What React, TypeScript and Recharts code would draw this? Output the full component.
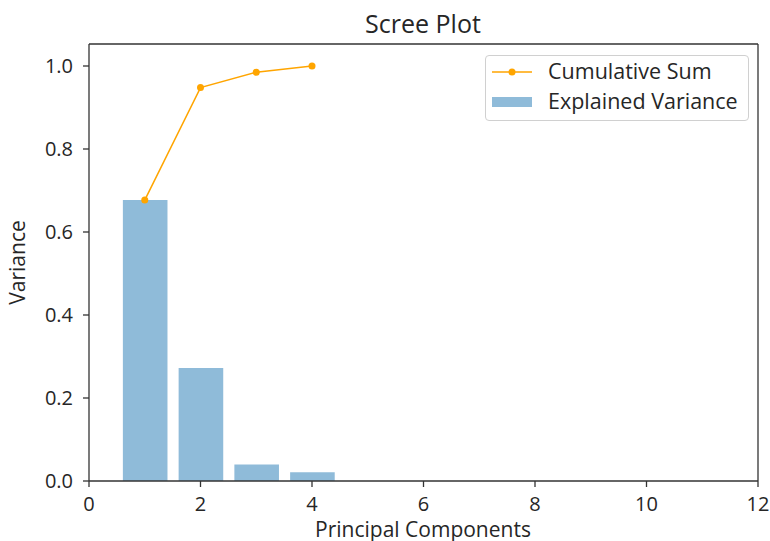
import {
  ComposedChart,
  Bar,
  Line,
  XAxis,
  YAxis,
  ReferenceLine,
} from "recharts";

const components = [1, 2, 3, 4];
const explainedVariance = [0.677, 0.272, 0.04, 0.021];
const cumulativeSum = [0.677, 0.948, 0.985, 1.0];
const xTicks = [0, 2, 4, 6, 8, 10, 12];
const yTicks = [0, 0.2, 0.4, 0.6, 0.8, 1.0];
const xMax = 12;
const yMax = 1.053;

const data = components.map((pc, i) => ({
  pc,
  variance: explainedVariance[i],
  cumulative: cumulativeSum[i],
}));

const FONT = "'Open Sans', 'DejaVu Sans', sans-serif";
const TEXT = "#262626";
const SPINE = "#333";
const BAR = "#1f77b4";
const LINE = "#ffa500";

function Legend() {
  return (
    <div
      style={{
        position: "absolute",
        left: 485,
        top: 55,
        width: 264,
        height: 66,
        boxSizing: "border-box",
        border: "1px solid #d0d0d0",
        borderRadius: 4,
        background: "rgba(255,255,255,0.8)",
      }}
    >
      <svg width={264} height={66} style={{ position: "absolute", left: -1, top: -1 }}>
        <line x1={7} x2={47} y1={17} y2={17} stroke={LINE} strokeWidth={1.5} />
        <circle cx={27} cy={17} r={3.5} fill={LINE} />
        <rect x={7} y={42} width={40} height={10} fill={BAR} fillOpacity={0.5} />
        <text x={63} y={24} fontFamily={FONT} fontSize={21.5} fill={TEXT}>
          Cumulative Sum
        </text>
        <text x={63} y={54} fontFamily={FONT} fontSize={21.5} fill={TEXT}>
          Explained Variance
        </text>
      </svg>
    </div>
  );
}

export default function App() {
  return (
    <div style={{ position: "absolute", left: 0, top: 0, width: 770, height: 541, background: "#fff" }}>
      <ComposedChart
        width={770}
        height={541}
        data={data}
        margin={{ top: 44, right: 12, bottom: 0, left: 0 }}
      >
        <XAxis
          dataKey="pc"
          type="number"
          domain={[0, xMax]}
          ticks={xTicks}
          allowDataOverflow
          height={60}
          stroke={SPINE}
          strokeWidth={1.3}
          tickSize={6}
          tickMargin={10}
          tick={{ fill: TEXT, fontSize: 20, fontFamily: FONT }}
          label={{
            content: () => (
              <text x={423} y={537} textAnchor="middle" fontFamily={FONT} fontSize={21} fill={TEXT}>
                Principal Components
              </text>
            ),
          }}
        />
        <YAxis
          type="number"
          domain={[0, yMax]}
          ticks={yTicks}
          allowDataOverflow
          width={89}
          stroke={SPINE}
          strokeWidth={1.3}
          tickSize={6}
          tickMargin={10}
          tickFormatter={(v: number) => v.toFixed(1)}
          tick={{ fill: TEXT, fontSize: 20, fontFamily: FONT }}
          label={{
            content: () => (
              <text
                x={25}
                y={262.5}
                textAnchor="middle"
                transform="rotate(-90 25 262.5)"
                fontFamily={FONT}
                fontSize={21}
                fill={TEXT}
              >
                Variance
              </text>
            ),
          }}
        />
        <ReferenceLine
          y={yMax}
          stroke={SPINE}
          strokeWidth={1.3}
          ifOverflow="extendDomain"
          label={{
            content: () => (
              <text x={423} y={33} textAnchor="middle" fontFamily={FONT} fontSize={25} fill={TEXT}>
                Scree Plot
              </text>
            ),
          }}
        />
        <ReferenceLine x={xMax} stroke={SPINE} strokeWidth={1.3} ifOverflow="extendDomain" />
        <Bar
          dataKey="variance"
          fill={BAR}
          fillOpacity={0.5}
          barSize={44.6}
          isAnimationActive={false}
        />
        <Line
          dataKey="cumulative"
          stroke={LINE}
          strokeWidth={1.5}
          dot={{ r: 3.5, fill: LINE, stroke: LINE, strokeWidth: 0 }}
          activeDot={false}
          isAnimationActive={false}
        />
      </ComposedChart>
      <Legend />
    </div>
  );
}
